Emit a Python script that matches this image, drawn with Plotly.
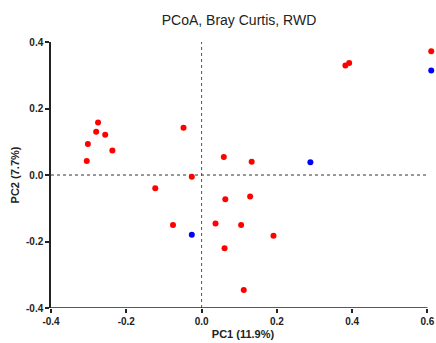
import plotly.graph_objects as go

red_x = [0.61, 0.382, 0.392, -0.275, -0.280, -0.256, -0.302, -0.237, -0.305, -0.048,
         0.059, 0.133, -0.026, -0.123, 0.063, 0.129, -0.076, 0.037, 0.105, 0.191,
         0.061, 0.112]
red_y = [0.372, 0.329, 0.337, 0.158, 0.130, 0.121, 0.093, 0.074, 0.042, 0.142,
         0.054, 0.040, -0.005, -0.040, -0.073, -0.065, -0.150, -0.146, -0.150, -0.183,
         -0.220, -0.346]
blue_x = [0.61, 0.289, -0.026]
blue_y = [0.314, 0.038, -0.180]

x_ticks = [-0.4, -0.2, 0.0, 0.2, 0.4, 0.6]
y_ticks = [-0.4, -0.2, 0.0, 0.2, 0.4]

X_MAX = 0.62  # a bit of room so the edge points are drawn
PX_PER_UNIT = 376.0
plot_w = (X_MAX + 0.4) * PX_PER_UNIT
r_margin = 436 - 51 - plot_w

fig = go.Figure()
fig.add_trace(go.Scatter(x=red_x, y=red_y, mode="markers", cliponaxis=False,
                         marker=dict(color="#ff0000", size=6), showlegend=False))
fig.add_trace(go.Scatter(x=blue_x, y=blue_y, mode="markers", cliponaxis=False,
                         marker=dict(color="#0000ff", size=6), showlegend=False))

fig.add_shape(type="line", x0=0, x1=0, y0=-0.4, y1=0.4, xref="x", yref="y",
              line=dict(color="#555555", width=1, dash="dot"), layer="below")
fig.add_shape(type="line", x0=-0.4, x1=0.6, y0=0, y1=0, xref="x", yref="y",
              line=dict(color="#333333", width=1, dash="dot"), layer="below")
# bottom axis line ending at the last tick
fig.add_shape(type="line", x0=-0.4, x1=0.6, y0=-0.4, y1=-0.4, xref="x", yref="y",
              line=dict(color="#222222", width=1.5), layer="above")

axfont = dict(family="Liberation Sans, Arial", size=10, color="#222222")
fig.update_layout(
    width=436, height=343,
    margin=dict(l=51, r=r_margin, t=42, b=35),
    paper_bgcolor="white", plot_bgcolor="white",
    title=dict(text="PCoA, Bray Curtis, RWD", x=239 / 436,
               xanchor="center", y=1 - 20 / 343, yanchor="middle",
               font=dict(family="Liberation Sans, Arial", size=14, color="#222222")),
    xaxis=dict(range=[-0.4, X_MAX], tickvals=x_ticks, ticktext=[f"<b>{v:.1f}</b>" for v in x_ticks],
               showgrid=False, zeroline=False, showline=False, automargin=False,
               ticks="outside", ticklen=4, tickwidth=1.5, tickcolor="#222222", tickfont=axfont,
               title=dict(text="<b>PC1 (11.9%)</b>", font=dict(family="Liberation Sans, Arial", size=11, color="#222222"),
                          standoff=4)),
    yaxis=dict(range=[-0.4, 0.4], tickvals=y_ticks, ticktext=[f"<b>{v:.1f}</b>" for v in y_ticks],
               showgrid=False, zeroline=False, showline=True, linecolor="#222222", linewidth=1.5,
               automargin=False,
               ticks="outside", ticklen=4, tickwidth=1.5, tickcolor="#222222", tickfont=axfont,
               title=dict(text="<b>PC2 (7.7%)</b>", font=dict(family="Liberation Sans, Arial", size=11, color="#222222"),
                          standoff=4)),
)
fig.write_html("out.html")
